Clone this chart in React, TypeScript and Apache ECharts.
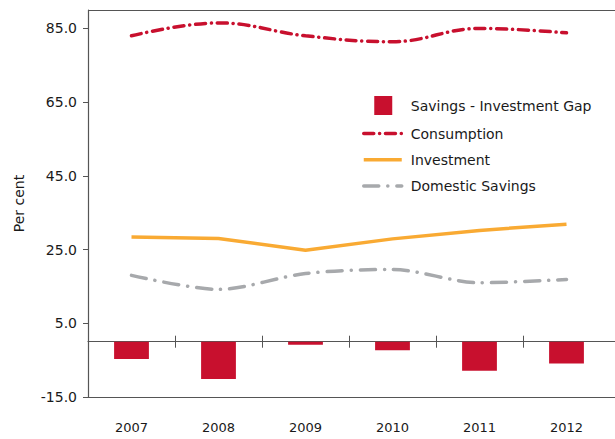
import React, { useEffect, useRef } from "react";
import * as echarts from "echarts";

const years = ["2007", "2008", "2009", "2010", "2011", "2012"];
const gap = [-4.7, -10.1, -0.8, -2.3, -7.9, -5.9];
const consumption = [83.0, 86.5, 83.0, 81.4, 85.0, 83.8];
const investment = [28.4, 28.0, 24.8, 27.9, 30.2, 31.9];
const savings = [18.0, 14.2, 18.5, 19.6, 16.0, 16.9];
const innerBoundaries = ["", "", "", "", ""];

const RED = "#C8102E";
const ORANGE = "#F9AA33";
const GREY = "#A7A9AC";
const AXIS = "#555555";
const TEXT = "#1a1a1a";
const FONT = "'DejaVu Sans', sans-serif";

export default function App() {
  const ref = useRef<HTMLDivElement>(null);
  useEffect(() => {
    document.body.style.margin = "0";
    const chart = echarts.init(ref.current!, undefined, { renderer: "svg" });
    const gridBase = { top: 10, bottom: 42, left: 88 };
    const yRange = { min: -15, max: 90 };
    const hiddenDot = { opacity: 0 };
    const consLine = { color: RED, width: 3.5, type: [10, 5.8, 0.1, 5.8], cap: "round" };
    const invLine = { color: ORANGE, width: 3.5 };
    const savLine = { color: GREY, width: 3.5, type: [15, 9, 0.1, 9], cap: "round" };
    chart.setOption({
      animation: false,
      textStyle: { fontFamily: FONT },
      grid: [
        { ...gridBase, right: 5 },
        { ...gridBase, width: 435 },
        { ...gridBase, right: 0 },
      ],
      legend: {
        orient: "vertical",
        left: 362,
        top: 96,
        padding: 0,
        itemWidth: 38,
        itemHeight: 19,
        itemGap: 11,
        textStyle: { fontSize: 14, color: TEXT, fontFamily: FONT, padding: [0, 0, 0, 4] },
        data: [
          { name: "Savings - Investment Gap", icon: "path://M0,0M38,19M10.5,0h18v19h-18z" },
          { name: "Consumption", itemStyle: hiddenDot, lineStyle: consLine },
          { name: "Investment", itemStyle: hiddenDot, lineStyle: invLine },
          { name: "Domestic Savings", itemStyle: hiddenDot, lineStyle: savLine },
        ],
      },
      xAxis: [
        {
          gridIndex: 0,
          type: "category",
          data: years,
          position: "bottom",
          axisLine: { show: false, onZero: false },
          axisTick: { show: false },
          axisLabel: { fontSize: 13, color: TEXT, margin: 24, fontFamily: FONT },
        },
        {
          gridIndex: 1,
          type: "category",
          data: innerBoundaries,
          position: "bottom",
          axisLine: { show: false, onZero: true },
          axisTick: { show: true, length: 6, lineStyle: { color: AXIS, width: 1 } },
          axisLabel: { show: false },
        },
        {
          gridIndex: 1,
          type: "category",
          data: innerBoundaries,
          position: "top",
          axisLine: { show: false, onZero: true },
          axisTick: { show: true, length: 6, lineStyle: { color: AXIS, width: 1 } },
          axisLabel: { show: false },
        },
        {
          gridIndex: 2,
          type: "category",
          data: [""],
          position: "bottom",
          axisLine: { show: true, onZero: true, lineStyle: { color: AXIS, width: 1.2 } },
          axisTick: { show: false },
          axisLabel: { show: false },
        },
      ],
      yAxis: [
        {
          gridIndex: 0,
          type: "value",
          ...yRange,
          interval: 20,
          name: "Per cent",
          nameLocation: "middle",
          nameRotate: 90,
          nameGap: 62,
          nameTextStyle: { fontSize: 14, color: TEXT, fontFamily: FONT },
          axisLine: { show: true, lineStyle: { color: AXIS, width: 1.2 } },
          axisTick: { show: true, length: 5, lineStyle: { color: AXIS } },
          axisLabel: {
            fontSize: 14,
            color: TEXT,
            margin: 11,
            showMaxLabel: false,
            fontFamily: FONT,
            formatter: (v: number) => (v === 90 ? "" : v.toFixed(1)),
          },
          splitLine: { show: false },
        },
        { gridIndex: 1, type: "value", ...yRange, show: false },
        { gridIndex: 1, type: "value", ...yRange, show: false },
        {
          gridIndex: 2,
          type: "value",
          ...yRange,
          interval: 105,
          axisLine: { show: false },
          axisTick: { show: false },
          axisLabel: { show: false },
          splitLine: { show: true, lineStyle: { color: AXIS, width: 1.2 } },
        },
      ],
      series: [
        {
          name: "Savings - Investment Gap",
          type: "bar",
          xAxisIndex: 0,
          yAxisIndex: 0,
          data: gap,
          barWidth: "40%",
          itemStyle: { color: RED },
        },
        {
          name: "Consumption",
          type: "line",
          xAxisIndex: 0,
          yAxisIndex: 0,
          data: consumption,
          smooth: 0.4,
          symbol: "none",
          itemStyle: { color: RED },
          lineStyle: consLine,
        },
        {
          name: "Investment",
          type: "line",
          xAxisIndex: 0,
          yAxisIndex: 0,
          data: investment,
          smooth: false,
          symbol: "none",
          itemStyle: { color: ORANGE },
          lineStyle: invLine,
        },
        {
          name: "Domestic Savings",
          type: "line",
          xAxisIndex: 0,
          yAxisIndex: 0,
          data: savings,
          smooth: 0.3,
          symbol: "none",
          itemStyle: { color: GREY },
          lineStyle: savLine,
        },
      ],
    });
    return () => chart.dispose();
  }, []);
  return <div ref={ref} style={{ width: 615, height: 439 }} />;
}
